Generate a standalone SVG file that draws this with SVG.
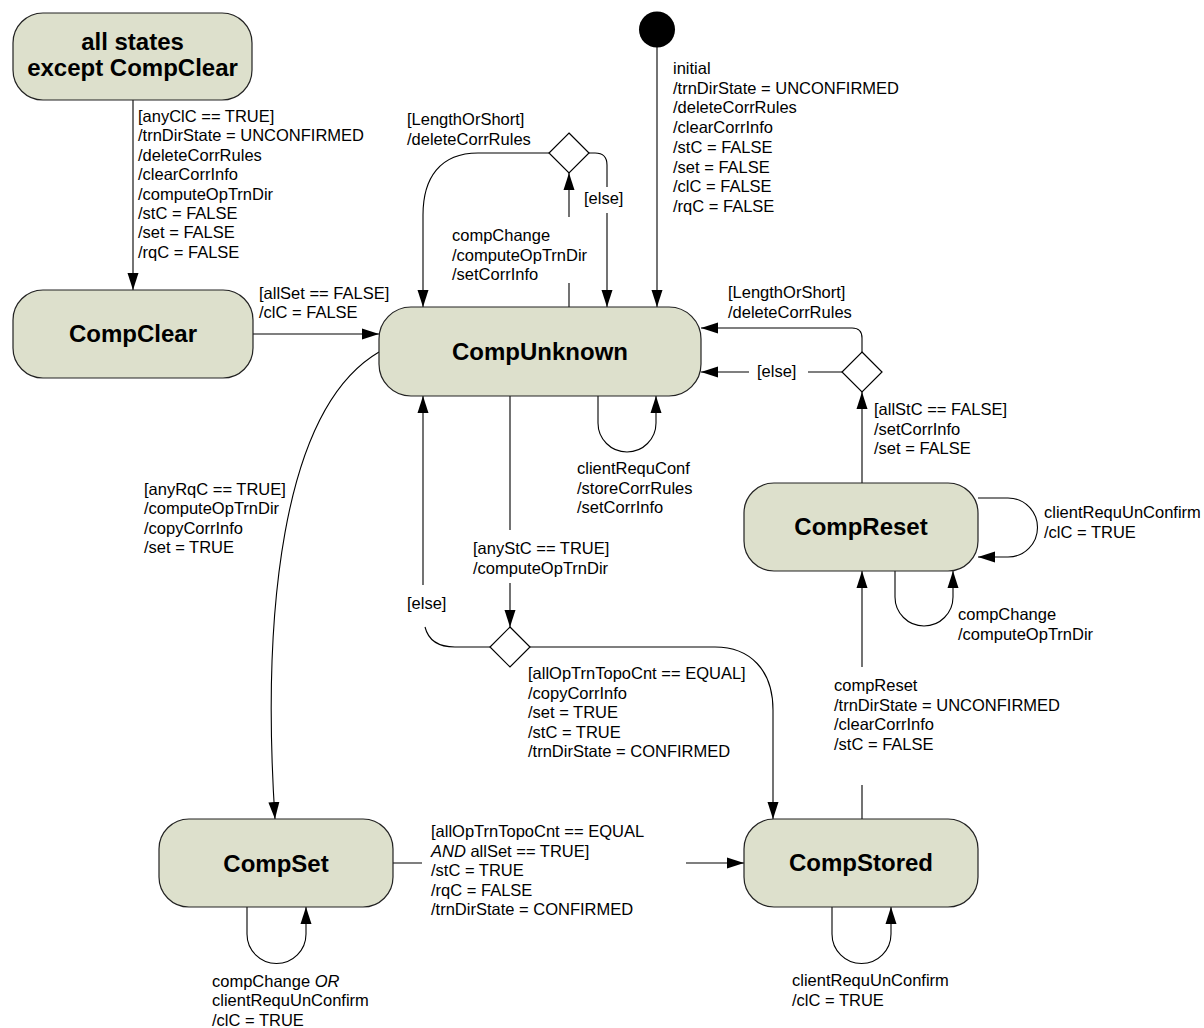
<svg xmlns="http://www.w3.org/2000/svg" width="1204" height="1028" viewBox="0 0 1204 1028">
<defs>
<marker id="ah" markerUnits="userSpaceOnUse" markerWidth="17" markerHeight="12" refX="17" refY="6" orient="auto"><path d="M0,0.5 L17,6 L0,11.5 Z" fill="#000"/></marker>
</defs>
<style>
.state rect{fill:#dde0cc;stroke:#222;stroke-width:1.2}
.state text{font-family:"Liberation Sans",Arial,sans-serif;font-weight:bold;font-size:24px;text-anchor:middle;fill:#000}
.conn path{fill:none;stroke:#000;stroke-width:1.1}
.arr{marker-end:url(#ah)}
.lbl{font-family:"Liberation Sans",Arial,sans-serif;font-size:16.5px;fill:#000}
.choice{fill:#fff;stroke:#000;stroke-width:1.2}
</style>
<rect width="1204" height="1028" fill="#fff"/>

<g id="connectors" class="conn">
<path class="arr" d="M133,100 V290"/>
<path class="arr" d="M253,334 H379"/>
<path class="arr" d="M379,352 C280,410 262,620 275,819"/>
<path class="arr" d="M657,47 V307"/>
<path class="arr" d="M569,307 V283 M569,217 V173"/>
<path class="arr" d="M549,153 H478 C440,153 423,178 423,215 V307"/>
<path class="arr" d="M589,153 H595 Q607,153 607,165 V187 M607,213 V307"/>
<path class="arr" d="M862,352 V338 Q862,328 852,328 H701"/>
<path class="arr" d="M842,372 H808 M749,372 H701"/>
<path class="arr" d="M862,483 V392"/>
<path class="arr" d="M978,498 H1008 A29.5,29.5 0 0 1 1008,557 H978"/>
<path class="arr" d="M895,569 V597 A29,29 0 0 0 953,597 V571"/>
<path class="arr" d="M862,819 V785 M862,667 V571"/>
<path class="arr" d="M598,394 V423 A29,29 0 0 0 656,423 V396"/>
<path class="arr" d="M510,396 V530 M510,583 V627"/>
<path class="arr" d="M530,647 H715 C750,647 773,670 773,710 V819"/>
<path class="arr" d="M490,647 H455 Q430,647 425,627 M423,585 V396"/>
<path class="arr" d="M393,863 H422 M686,863 H744"/>
<path class="arr" d="M247,904 V934 A29.5,29.5 0 0 0 306,934 V907"/>
<path class="arr" d="M832,904 V934 A29.5,29.5 0 0 0 891,934 V907"/>

<text class="lbl" x="138" y="122"><tspan x="138">[anyClC == TRUE]</tspan><tspan x="138" dy="19.4">/trnDirState = UNCONFIRMED</tspan><tspan x="138" dy="19.4">/deleteCorrRules</tspan><tspan x="138" dy="19.4">/clearCorrInfo</tspan><tspan x="138" dy="19.4">/computeOpTrnDir</tspan><tspan x="138" dy="19.4">/stC = FALSE</tspan><tspan x="138" dy="19.4">/set = FALSE</tspan><tspan x="138" dy="19.4">/rqC = FALSE</tspan></text>
<text class="lbl" x="259" y="299"><tspan x="259">[allSet == FALSE]</tspan><tspan x="259" dy="19.4">/clC = FALSE</tspan></text>
<text class="lbl" x="144" y="495"><tspan x="144">[anyRqC == TRUE]</tspan><tspan x="144" dy="19.4">/computeOpTrnDir</tspan><tspan x="144" dy="19.4">/copyCorrInfo</tspan><tspan x="144" dy="19.4">/set = TRUE</tspan></text>
<text class="lbl" x="673" y="74"><tspan x="673">initial</tspan><tspan x="673" dy="19.7">/trnDirState = UNCONFIRMED</tspan><tspan x="673" dy="19.7">/deleteCorrRules</tspan><tspan x="673" dy="19.7">/clearCorrInfo</tspan><tspan x="673" dy="19.7">/stC = FALSE</tspan><tspan x="673" dy="19.7">/set = FALSE</tspan><tspan x="673" dy="19.7">/clC = FALSE</tspan><tspan x="673" dy="19.7">/rqC = FALSE</tspan></text>
<text class="lbl" x="407" y="125"><tspan x="407">[LengthOrShort]</tspan><tspan x="407" dy="19.5">/deleteCorrRules</tspan></text>
<text class="lbl" x="584" y="204">[else]</text>
<text class="lbl" x="452" y="241"><tspan x="452">compChange</tspan><tspan x="452" dy="19.5">/computeOpTrnDir</tspan><tspan x="452" dy="19.5">/setCorrInfo</tspan></text>
<text class="lbl" x="728" y="298"><tspan x="728">[LengthOrShort]</tspan><tspan x="728" dy="19.5">/deleteCorrRules</tspan></text>
<text class="lbl" x="757" y="377">[else]</text>
<text class="lbl" x="874" y="415"><tspan x="874">[allStC == FALSE]</tspan><tspan x="874" dy="19.5">/setCorrInfo</tspan><tspan x="874" dy="19.5">/set = FALSE</tspan></text>
<text class="lbl" x="1044" y="518"><tspan x="1044">clientRequUnConfirm</tspan><tspan x="1044" dy="19.5">/clC = TRUE</tspan></text>
<text class="lbl" x="958" y="620"><tspan x="958">compChange</tspan><tspan x="958" dy="19.5">/computeOpTrnDir</tspan></text>
<text class="lbl" x="577" y="474"><tspan x="577">clientRequConf</tspan><tspan x="577" dy="19.5">/storeCorrRules</tspan><tspan x="577" dy="19.5">/setCorrInfo</tspan></text>
<text class="lbl" x="473" y="554"><tspan x="473">[anyStC == TRUE]</tspan><tspan x="473" dy="19.5">/computeOpTrnDir</tspan></text>
<text class="lbl" x="407" y="609">[else]</text>
<text class="lbl" x="528" y="679"><tspan x="528">[allOpTrnTopoCnt == EQUAL]</tspan><tspan x="528" dy="19.5">/copyCorrInfo</tspan><tspan x="528" dy="19.5">/set = TRUE</tspan><tspan x="528" dy="19.5">/stC = TRUE</tspan><tspan x="528" dy="19.5">/trnDirState = CONFIRMED</tspan></text>
<text class="lbl" x="834" y="691"><tspan x="834">compReset</tspan><tspan x="834" dy="19.5">/trnDirState = UNCONFIRMED</tspan><tspan x="834" dy="19.5">/clearCorrInfo</tspan><tspan x="834" dy="19.5">/stC = FALSE</tspan></text>
<text class="lbl" x="431" y="837"><tspan x="431">[allOpTrnTopoCnt == EQUAL</tspan><tspan x="431" dy="19.5"><tspan font-style="italic">AND</tspan> allSet == TRUE]</tspan><tspan x="431" dy="19.5">/stC = TRUE</tspan><tspan x="431" dy="19.5">/rqC = FALSE</tspan><tspan x="431" dy="19.5">/trnDirState = CONFIRMED</tspan></text>
<text class="lbl" x="212" y="987"><tspan x="212">compChange <tspan font-style="italic">OR</tspan></tspan><tspan x="212" dy="19.3">clientRequUnConfirm</tspan><tspan x="212" dy="19.3">/clC = TRUE</tspan></text>
<text class="lbl" x="792" y="986"><tspan x="792">clientRequUnConfirm</tspan><tspan x="792" dy="19.5">/clC = TRUE</tspan></text>
</g>

<g id="allStates" class="state"><rect x="13" y="13" width="239" height="87" rx="30"/><text x="132.5" y="50">all states</text><text x="132.5" y="76">except CompClear</text></g>
<g id="compClear" class="state"><rect x="13" y="290" width="240" height="88" rx="30"/><text x="133" y="342">CompClear</text></g>
<g id="compUnknown" class="state"><rect x="379" y="307" width="322" height="89" rx="32"/><text x="540" y="360">CompUnknown</text></g>
<g id="compReset" class="state"><rect x="744" y="483" width="234" height="88" rx="30"/><text x="861" y="535">CompReset</text></g>
<g id="compSet" class="state"><rect x="159" y="819" width="234" height="88" rx="30"/><text x="276" y="872">CompSet</text></g>
<g id="compStored" class="state"><rect x="744" y="819" width="234" height="88" rx="30"/><text x="861" y="871">CompStored</text></g>
<g id="initial"><circle cx="657" cy="29.5" r="18" fill="#000"/></g>
<g id="choice1"><polygon class="choice" points="569,133 589,153 569,173 549,153"/></g>
<g id="choice2"><polygon class="choice" points="862,352 882,372 862,392 842,372"/></g>
<g id="choice3"><polygon class="choice" points="510,627 530,647 510,667 490,647"/></g>
</svg>
